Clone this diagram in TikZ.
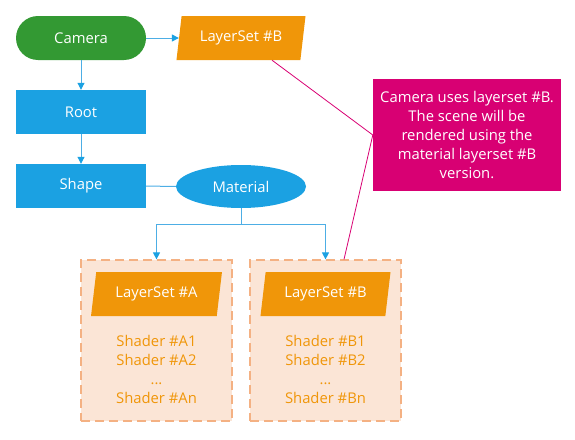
\documentclass[tikz,border=0pt]{standalone}
\usepackage{fontspec}
\setmainfont{Open Sans}
\usetikzlibrary{shapes.geometric,arrows.meta}
\definecolor{cgreen}{HTML}{339933}
\definecolor{cblue}{HTML}{1BA1E2}
\definecolor{corange}{HTML}{F09609}
\definecolor{cmag}{HTML}{D80073}
\definecolor{cgfill}{HTML}{FBE5D6}
\definecolor{cgdash}{HTML}{F4B183}
\definecolor{cline}{HTML}{4DAEE5}
\begin{document}
\begin{tikzpicture}[x=1pt,y=-1pt,
 font=\fontsize{14.8}{19}\selectfont,
 base/.style={minimum width=130pt,minimum height=44pt,inner sep=0pt,text=white},
 pill/.style={base,fill=cgreen,rounded corners=22pt},
 box/.style={base,fill=cblue},
 oval/.style={base,ellipse,fill=cblue,minimum height=43pt},
 para/.style={base,trapezium,trapezium left angle=76,trapezium right angle=104,trapezium stretches=true,fill=corange},
 grp/.style={fill=cgfill,draw=cgdash,line width=1.2pt,dash pattern=on 9pt off 5pt,minimum width=151pt,minimum height=161pt,inner sep=0pt},
 conn/.style={draw=cline,line width=1pt},
 arr/.style={conn,-{Triangle[width=7pt,length=7pt,color=cblue]}},
 note/.style={fill=cmag,text=white,minimum width=188pt,minimum height=112pt,align=center,inner sep=0pt},
 noteline/.style={draw=cmag,line width=0.8pt},
 shader/.style={text=corange,align=center,inner sep=0pt}
]
\useasboundingbox (0,0) rectangle (575,439);
\node[pill] (cam) at (81,38) {Camera};
\node[para] (lsb) at (241,38) {LayerSet \#B};
\node[box] (root) at (81,112) {Root};
\node[box] (shape) at (81,186) {Shape};
\node[oval] (mat) at (241,186.5) {Material};
\coordinate (split) at (241,224);
\node[grp] (grpA) at (156.5,340.5) {};
\node[grp] (grpB) at (325.5,340.5) {};
\node[para,minimum width=131pt] (lsa) at (156.5,294) {LayerSet \#A};
\node[para,minimum width=131pt] (lsb2) at (325.5,294) {LayerSet \#B};
\node[shader] (shA) at (156.5,369) {Shader \#A1\\Shader \#A2\\...\\Shader \#An};
\node[shader] (shB) at (325.5,369) {Shader \#B1\\Shader \#B2\\...\\Shader \#Bn};
\node[note] (note) at (467,135) {Camera uses layerset \#B.\\The scene will be\\rendered using the\\material layerset \#B\\version.};
\draw[arr] (cam) -- (lsb);
\draw[arr] (cam) -- (root);
\draw[arr] (root) -- (shape);
\draw[conn] (shape) -- (mat);
\draw[conn] (mat.south) -- (split);
\draw[arr] (split) -| (grpA.north);
\draw[arr] (split) -| (grpB.north);
\draw[noteline] ([xshift=31pt]lsb.south) -- (note.west) -- ([xshift=18.5pt]grpB.north);
\end{tikzpicture}
\end{document}
